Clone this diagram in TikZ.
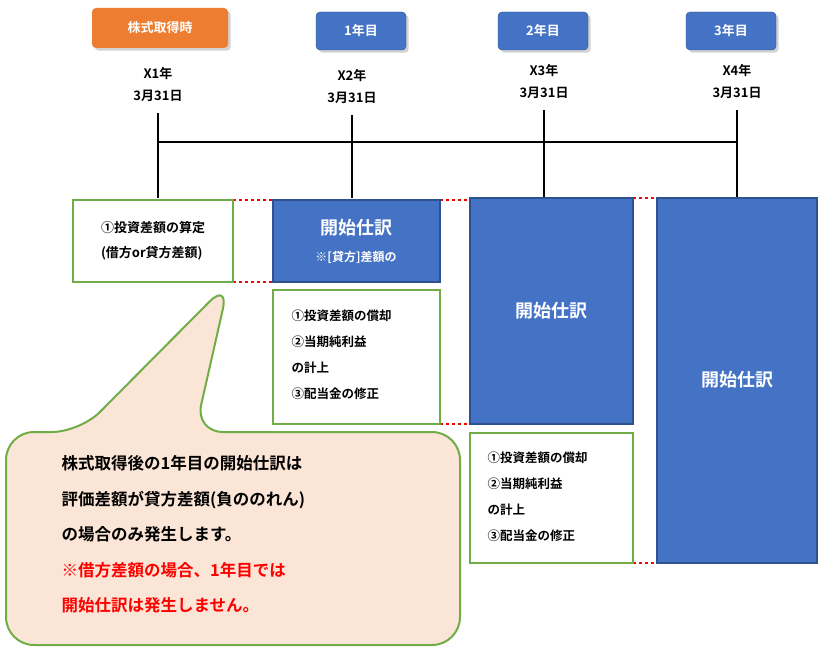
\documentclass[tikz,border=0pt]{standalone}
\usepackage{fontspec}
\setmainfont{Noto Sans CJK JP}[BoldFont={Noto Sans CJK JP Bold}]
\usetikzlibrary{shadows}
\definecolor{boxblue}{RGB}{68,114,196}
\definecolor{edgeblue}{RGB}{47,82,143}
\definecolor{leafgreen}{RGB}{112,173,71}
\definecolor{badgeorange}{RGB}{237,125,49}
\definecolor{peach}{RGB}{251,229,214}
\tikzset{
  badge/.style={rounded corners=4pt, text=white, font=\bfseries\fontsize{13}{13}\selectfont, drop shadow={opacity=0.35}},
  entry/.style={draw=edgeblue, line width=2pt, fill=boxblue, text=white},
  note/.style={draw=leafgreen, line width=2pt, fill=white},
  gap/.style={red, dashed, line width=1.5pt},
  datelabel/.style={font=\bfseries\fontsize{13}{16}\selectfont, align=center},
}
\begin{document}
\begin{tikzpicture}[x=1pt,y=1pt,yscale=-1]
	\useasboundingbox (0,0) rectangle (827,661);

	% badges
	\fill [badge, fill=badgeorange] (92,8) rectangle (228,48);
	\node (b0) [text=white, font=\bfseries\fontsize{13}{13}\selectfont] at (160,28) {株式取得時};
	\foreach \x/\t in {361/1年目, 543/2年目, 731/3年目} {
		\fill [badge, fill=boxblue, draw=edgeblue] (\x-45,12) rectangle (\x+45,50);
		\node [text=white, font=\bfseries\fontsize{13}{13}\selectfont] at (\x,31) {\t};
	}

	% dates and timeline
	\foreach \x/\y/\t in {158/70/X1, 352/72/X2, 544/67/X3, 737/67/X4} {
		\node [datelabel] at (\x,\y+15) {\t 年\\[6pt]3月31日};
		\draw [line width=2.5pt] (\x,\y+43) -- (\x,198);
	}
	\draw [line width=2.5pt] (158,142) -- (737,142);

	% dashed links
	\draw [gap] (233,200) -- (273,200);
	\draw [gap] (233,282) -- (273,282);
	\draw [gap] (440,200) -- (470,200);
	\draw [gap] (440,424) -- (470,424);
	\draw [gap] (633,198) -- (657,198);
	\draw [gap] (633,563) -- (657,563);

	% boxes
	\draw [note] (73,200) rectangle (233,282);
	\node (calc) [font=\bfseries\fontsize{13}{25}\selectfont, align=left] at (153,241) {①投資差額の算定\\(借方or貸方差額)};
	\draw [entry] (273,200) rectangle (440,282);
	\node (open1) [text=white, font=\bfseries\fontsize{18}{18}\selectfont] at (356,228) {開始仕訳};
	\node [text=white, font=\bfseries\fontsize{12}{12}\selectfont] at (356,257) {※[貸方]差額の};
	\draw [note] (273,290) rectangle (440,424);
	\node (list1) [font=\bfseries\fontsize{12.5}{26}\selectfont, align=left, anchor=west] at (288,355) {①投資差額の償却\\②当期純利益\\の計上\\③配当金の修正};
	\draw [entry] (470,198) rectangle (633,424);
	\node (open2) [text=white, font=\bfseries\fontsize{18}{18}\selectfont] at (551,311) {開始仕訳};
	\draw [note] (470,433) rectangle (633,563);
	\node (list2) [font=\bfseries\fontsize{12.5}{26}\selectfont, align=left, anchor=west] at (484,497) {①投資差額の償却\\②当期純利益\\の計上\\③配当金の修正};
	\draw [entry] (657,198) rectangle (817,563);
	\node (open3) [text=white, font=\bfseries\fontsize{18}{18}\selectfont] at (737,380) {開始仕訳};

	% callout
	\draw [draw=leafgreen, line width=2pt, fill=peach, rounded corners=28pt]
		(80,432) -- (229,282) -- (195,432) -- (460,432) -- (460,645) -- (6,645) -- (6,432) -- cycle;
	\node (memo) [font=\bfseries\fontsize{16.5}{35.5}\selectfont, align=left, anchor=north west] at (58,452)
		{株式取得後の1年目の開始仕訳は\\評価差額が貸方差額(負ののれん)\\の場合のみ発生します。\\\textcolor{red}{※借方差額の場合、1年目では}\\\textcolor{red}{開始仕訳は発生しません。}};
\end{tikzpicture}
\end{document}
